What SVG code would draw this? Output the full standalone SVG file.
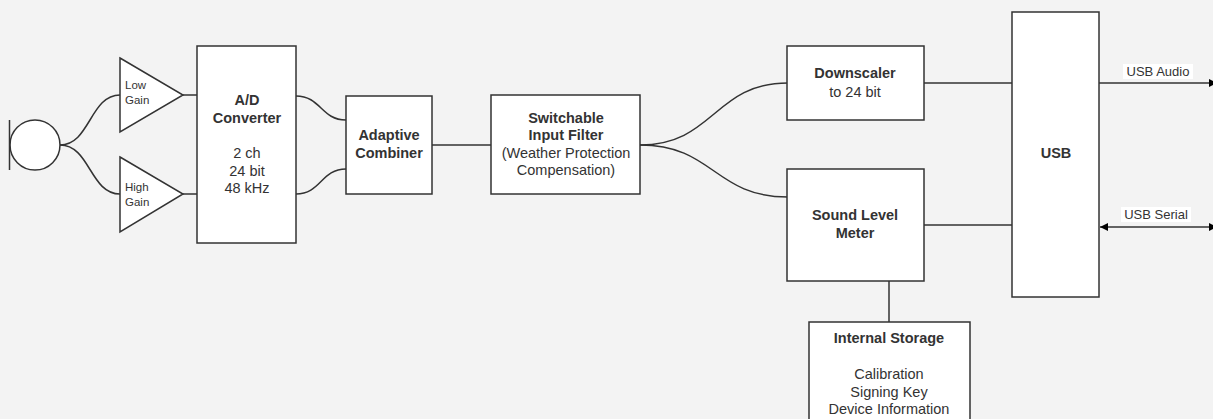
<svg xmlns="http://www.w3.org/2000/svg" width="1213" height="419" viewBox="0 0 1213 419">
  <style>
    .box { fill: #ffffff; stroke: #333333; stroke-width: 1.5; }
    .wire { fill: none; stroke: #333333; stroke-width: 1.5; }
    text { font-family: "Liberation Sans", Arial, Helvetica, sans-serif; fill: #333333; text-anchor: middle; }
    .t { font-size: 14.5px; }
    .b { font-weight: bold; }
    .s { font-size: 13px; }
    .small { font-size: 11.5px; text-anchor: start; }
  </style>
  <defs>
    <marker id="arrow" viewBox="0 0 10 10" refX="10" refY="5" markerWidth="8" markerHeight="8" markerUnits="userSpaceOnUse" orient="auto-start-reverse">
      <path d="M0,0 L10,5 L0,10 Z" fill="#000000" stroke="none"/>
    </marker>
  </defs>
  <rect width="1213" height="419" fill="#f3f3f3"/>

  <!-- connectors -->
  <g id="connectors">
    <path class="wire" d="M60,145 C90,145 90,95 120,95"/>
    <path class="wire" d="M60,145 C90,145 90,194 120,194"/>
    <path class="wire" d="M183,95 L197,95"/>
    <path class="wire" d="M183,194 L197,194"/>
    <path class="wire" d="M296,96 C321,96 321,120 346,120"/>
    <path class="wire" d="M296,194 C321,194 321,169 346,169"/>
    <path class="wire" d="M432,145 L491,145"/>
    <path class="wire" d="M640,145 C714,145 714,83 788,83"/>
    <path class="wire" d="M640,145 C714,145 714,197 788,197"/>
    <path class="wire" d="M924,83 L1012,83"/>
    <path class="wire" d="M924,225 L1012,225"/>
    <path class="wire" d="M889,281 L889,322"/>
    <path class="wire" d="M1099,83 L1217,83" marker-end="url(#arrow)"/>
    <path class="wire" d="M1100,227 L1217,227" marker-start="url(#arrow)" marker-end="url(#arrow)"/>
    <rect x="1123" y="64" width="70" height="15" fill="#ffffff"/>
    <text class="s" x="1158" y="76">USB Audio</text>
    <rect x="1121" y="207" width="70" height="15" fill="#ffffff"/>
    <text class="s" x="1156" y="219">USB Serial</text>
  </g>

  <!-- microphone -->
  <g id="mic">
    <circle cx="35" cy="145" r="25" fill="#ffffff" stroke="#333333" stroke-width="1.5"/>
    <line x1="9.5" y1="120" x2="9.5" y2="170" stroke="#333333" stroke-width="1.5"/>
  </g>

  <!-- amplifiers -->
  <g id="amp-low">
    <path class="box" d="M120,58 L183,95 L120,132 Z"/>
    <text class="small" x="125" y="89">Low</text>
    <text class="small" x="125" y="104">Gain</text>
  </g>
  <g id="amp-high">
    <path class="box" d="M120,157 L183,194 L120,232 Z"/>
    <text class="small" x="125" y="191">High</text>
    <text class="small" x="125" y="206">Gain</text>
  </g>

  <g id="adc">
    <rect class="box" x="197" y="46" width="99" height="197"/>
    <text class="t b" x="247" y="105">A/D</text>
    <text class="t b" x="247" y="123">Converter</text>
    <text class="t" x="247" y="158">2 ch</text>
    <text class="t" x="247" y="176">24 bit</text>
    <text class="t" x="247" y="193">48 kHz</text>
  </g>

  <g id="combiner">
    <rect class="box" x="346" y="96" width="86" height="98"/>
    <text class="t b" x="389" y="140">Adaptive</text>
    <text class="t b" x="389" y="158">Combiner</text>
  </g>

  <g id="filter">
    <rect class="box" x="491" y="95" width="149" height="99"/>
    <text class="t b" x="566" y="123">Switchable</text>
    <text class="t b" x="566" y="140">Input Filter</text>
    <text class="t" x="566" y="158">(Weather Protection</text>
    <text class="t" x="566" y="175">Compensation)</text>
  </g>

  <g id="downscaler">
    <rect class="box" x="787" y="46" width="137" height="74"/>
    <text class="t b" x="855" y="78">Downscaler</text>
    <text class="t" x="855" y="97">to 24 bit</text>
  </g>

  <g id="slm">
    <rect class="box" x="787" y="169" width="137" height="112"/>
    <text class="t b" x="855" y="220">Sound Level</text>
    <text class="t b" x="855" y="238">Meter</text>
  </g>

  <g id="usb">
    <rect class="box" x="1012" y="12" width="87" height="285"/>
    <text class="t b" x="1056" y="158">USB</text>
  </g>

  <g id="storage">
    <rect class="box" x="809" y="322" width="161" height="110"/>
    <text class="t b" x="889" y="343">Internal Storage</text>
    <text class="t" x="889" y="379">Calibration</text>
    <text class="t" x="889" y="396.5">Signing Key</text>
    <text class="t" x="889" y="414">Device Information</text>
  </g>
</svg>
